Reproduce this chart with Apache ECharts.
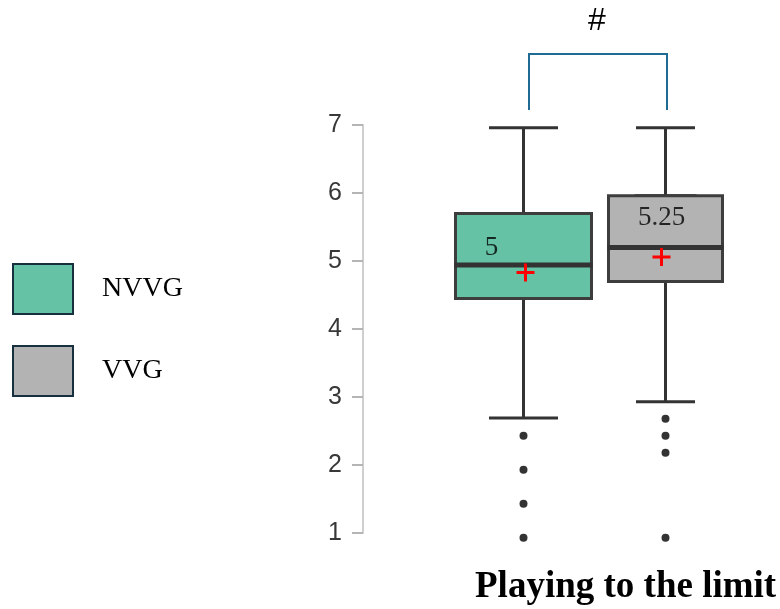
<!DOCTYPE html>
<html><head><meta charset="utf-8">
<script src="https://cdn.jsdelivr.net/npm/echarts@6/dist/echarts.min.js"></script>
<style>html,body{margin:0;padding:0;background:#fff}#c{width:780px;height:609px}</style>
</head><body><div id="c"></div>
<script>
const categories = ['NVVG', 'VVG'];
const whiskerLow = [2.69, 2.93];
const q1 = [4.45, 4.70];
const median = [4.94, 5.20];
const q3 = [5.70, 5.96];
const whiskerHigh = [6.96, 6.96];
const means = [4.83, 5.06];
const outliers = [[2.43, 1.93, 1.43, 0.93], [2.68, 2.43, 2.18, 0.93]];
const medianLabels = ['5', '5.25'];
const medianLabelY = [5.19, 5.63];
const titleText = 'Playing to the limit';
const sigMark = '#';

const colors = ['#66c2a5', '#b3b3b3'];
const boxWidths = [136, 114];
const capWidths = [69, 59];
const labelOffsetX = [-32, -4];
const meanOffsetX = [2, -4];

const chart = echarts.init(document.getElementById('c'), null, {renderer: 'canvas'});

const grids = [
  {left: 452.5, width: 142, top: 125, height: 408},
  {left: 594.5, width: 142, top: 125, height: 408}
];
const xAxes = [];
const yAxes = [];
const series = [];
categories.forEach((cat, g) => {
  for (let k = 0; k < 2; k++) {
    xAxes.push({type: 'category', gridIndex: g, data: [cat], show: false});
  }
  yAxes.push({
    type: 'value', gridIndex: g, min: 1, max: 7, interval: 1,
    show: g === 0, offset: 89.5,
    axisLine: {show: true, lineStyle: {color: '#cfcfcf', width: 2}},
    axisTick: {show: true, length: 11, lineStyle: {color: '#b5b5b5', width: 2}},
    axisLabel: {fontFamily: 'Liberation Sans', fontSize: 25, color: '#383838', margin: 21},
    splitLine: {show: false}
  });
  // whiskers with half-width caps
  series.push({
    type: 'boxplot', xAxisIndex: 2 * g, yAxisIndex: g, silent: true, z: 2,
    boxWidth: [capWidths[g], capWidths[g]],
    itemStyle: {color: colors[g], borderColor: '#333', borderWidth: 3},
    data: [[whiskerLow[g], q1[g], median[g], q3[g], whiskerHigh[g]]]
  });
  // box body
  series.push({
    type: 'boxplot', name: cat, xAxisIndex: 2 * g + 1, yAxisIndex: g, silent: true, z: 3,
    boxWidth: [boxWidths[g], boxWidths[g]],
    itemStyle: {color: colors[g], borderColor: '#3d3d3d', borderWidth: 3},
    data: [[q1[g], q1[g], median[g], q3[g], q3[g]]]
  });
  // thick median line
  series.push({
    type: 'scatter', xAxisIndex: 2 * g + 1, yAxisIndex: g, silent: true, z: 4,
    symbol: 'rect', symbolSize: [boxWidths[g] + 2, 5],
    itemStyle: {color: '#333', opacity: 1},
    data: [[cat, median[g]]]
  });
  // outliers
  series.push({
    type: 'scatter', xAxisIndex: 2 * g, yAxisIndex: g, silent: true, z: 4, clip: false,
    symbol: 'circle', symbolSize: 8,
    itemStyle: {color: '#333', opacity: 1},
    data: outliers[g].map(v => [cat, v])
  });
  // mean marker
  series.push({
    type: 'scatter', xAxisIndex: 2 * g, yAxisIndex: g, silent: true, z: 5,
    symbol: 'path://M7.5,0h3v18h-3zM0,7.5h18v3h-18z', symbolSize: 18,
    symbolOffset: [meanOffsetX[g], 0],
    itemStyle: {color: '#ff0000', opacity: 1},
    data: [[cat, means[g]]]
  });
  // median label
  series.push({
    type: 'scatter', xAxisIndex: 2 * g, yAxisIndex: g, silent: true, z: 6,
    symbolSize: 1, itemStyle: {color: 'rgba(0,0,0,0)'},
    label: {show: true, position: 'inside', offset: [labelOffsetX[g], 0],
      formatter: medianLabels[g], fontFamily: 'Liberation Serif', fontSize: 27, color: '#000'},
    data: [[cat, medianLabelY[g]]]
  });
});

chart.setOption({
  animation: false,
  backgroundColor: '#fff',
  title: {text: titleText, left: 475, top: 569, padding: 0,
    textStyle: {fontFamily: 'Liberation Serif', fontWeight: 'bold', fontSize: 37, color: '#000'}},
  legend: {
    orient: 'vertical', left: 12, top: 263, padding: 0, itemWidth: 60, itemHeight: 50, itemGap: 30,
    selectedMode: false,
    textStyle: {fontFamily: 'Liberation Serif', fontSize: 28, color: '#000', padding: [0, 0, 0, 24]},
    data: categories.map((c, i) => ({name: c, icon: 'rect',
      itemStyle: {color: colors[i], borderColor: '#17303d', borderWidth: 2}}))
  },
  grid: grids,
  xAxis: xAxes,
  yAxis: yAxes,
  series: series,
  graphic: [
    {type: 'polyline', silent: true,
      shape: {points: [[529, 110], [529, 54], [667, 54], [667, 110]]},
      style: {stroke: '#1f6b93', lineWidth: 2, fill: null}},
    {type: 'text', silent: true, x: 597, y: 21,
      style: {text: sigMark, fontFamily: 'Liberation Sans', fontSize: 32, fill: '#000',
        align: 'center', verticalAlign: 'middle'}}
  ]
});
</script></body></html>
